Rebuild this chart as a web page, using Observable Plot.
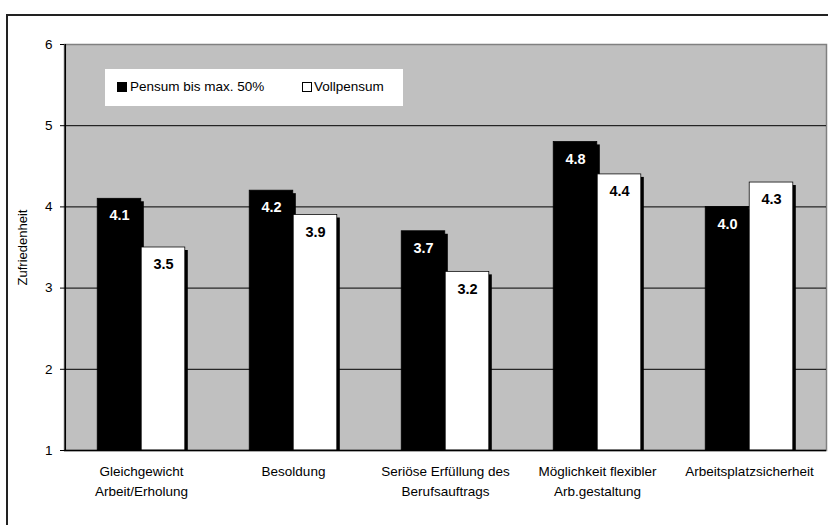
<!DOCTYPE html>
<html>
<head>
<meta charset="utf-8">
<script src="https://cdn.jsdelivr.net/npm/d3@7"></script>
<script src="https://cdn.jsdelivr.net/npm/@observablehq/plot@0.6"></script>
<style>
  html, body { margin: 0; padding: 0; background: #fff; }
  #wrap { position: relative; width: 828px; height: 525px; overflow: hidden; font-family: "Liberation Sans", Arial, sans-serif; }
  #outer { position: absolute; left: 6px; top: 14px; width: 900px; height: 600px; border: 2px solid #222; box-sizing: border-box; }
  #chart { position: absolute; left: 0; top: 0; }
  #legend { position: absolute; left: 105px; top: 69px; width: 298px; height: 37px; background: #fff; font-size: 13.5px; color: #000; }
  .sw { position: absolute; top: 13px; width: 10px; height: 10px; box-sizing: border-box; border: 1px solid #000; }
  .lt { position: absolute; top: 10px; white-space: nowrap; }
</style>
</head>
<body>
<div id="wrap">
  <div id="outer"></div>
  <div id="chart"></div>
  <div id="legend">
    <div class="sw" style="left:12px;background:#000"></div>
    <div class="lt" style="left:25px">Pensum bis max. 50%</div>
    <div class="sw" style="left:197px;background:#fff"></div>
    <div class="lt" style="left:209px">Vollpensum</div>
  </div>
</div>
<script>
const categories = [
  "Gleichgewicht\nArbeit/Erholung",
  "Besoldung",
  "Seriöse Erfüllung des\nBerufsauftrags",
  "Möglichkeit flexibler\nArb.gestaltung",
  "Arbeitsplatzsicherheit"
];
const seriesNames = ["Pensum bis max. 50%", "Vollpensum"];
const partTime = [4.1, 4.2, 3.7, 4.8, 4.0];
const fullTime = [3.5, 3.9, 3.2, 4.4, 4.3];
const yTicks = [1, 2, 3, 4, 5, 6];
const gridValues = [2, 3, 4, 5];
const yTitle = "Zufriedenheit";

const data = [];
categories.forEach((c, i) => {
  data.push({cat: c, series: seriesNames[0], value: partTime[i]});
  data.push({cat: c, series: seriesNames[1], value: fullTime[i]});
});
const black = data.filter(d => d.series === seriesNames[0]);
const white = data.filter(d => d.series === seriesNames[1]);

const W = 828, H = 525;
const mL = 64, mR = 2, mT = 44, mB = 75;
const band = (W - mL - mR) / categories.length;
const barW = 44;
const outerPad = (band - 2 * barW) / 2;
const font = "Liberation Sans, Arial, sans-serif";

const chart = Plot.plot({
  width: W,
  height: H,
  marginLeft: mL,
  marginRight: mR,
  marginTop: mT,
  marginBottom: mB,
  style: {background: "transparent", fontFamily: font, fontSize: "13px", color: "#000"},
  x: {domain: categories, padding: 0},
  y: {domain: [1, 6]},
  marks: [
    Plot.frame({fill: "#c0c0c0", stroke: "#808080", strokeWidth: 1.5}),
    Plot.ruleY(gridValues, {stroke: "#000", strokeWidth: 1}),
    // shadows
    Plot.barY(black, {x: "cat", y1: 1, y2: "value", fill: "#000", dx: 3, dy: 3, insetBottom: 3,
      insetLeft: outerPad, insetRight: band - outerPad - barW}),
    Plot.barY(white, {x: "cat", y1: 1, y2: "value", fill: "#000", dx: 3, dy: 3, insetBottom: 3,
      insetLeft: outerPad + barW, insetRight: outerPad}),
    // bars
    Plot.barY(black, {x: "cat", y1: 1, y2: "value", fill: "#000", stroke: "#000", strokeWidth: 0.75,
      insetLeft: outerPad, insetRight: band - outerPad - barW}),
    Plot.barY(white, {x: "cat", y1: 1, y2: "value", fill: "#fff", stroke: "#000", strokeWidth: 0.75,
      insetLeft: outerPad + barW, insetRight: outerPad}),
    // value labels
    Plot.text(black, {x: "cat", y: "value", text: d => d.value.toFixed(1), dx: -(barW / 2), dy: 17,
      fill: "#fff", fontWeight: "bold", fontSize: 14.5}),
    Plot.text(white, {x: "cat", y: "value", text: d => d.value.toFixed(1), dx: barW / 2, dy: 17,
      fill: "#000", fontWeight: "bold", fontSize: 14.5}),
    Plot.axisY({ticks: yTicks, tickFormat: d => String(d), tickSize: 4, tickPadding: 8,
      label: null, fontSize: 13.5}),
    Plot.text([yTitle], {text: d => d, frameAnchor: "left", textAnchor: "middle", rotate: -90, dx: -42,
      fontSize: 13, fill: "#000"}),
    Plot.axisX({tickSize: 0, tickPadding: 12, label: null, lineHeight: 1.45, fontSize: 13.5}),
    Plot.ruleX([0], {x: () => categories[0], dx: -band / 2, y1: 1, y2: 6, stroke: "#000", strokeWidth: 1.5}),
    Plot.ruleY([1], {stroke: "#000", strokeWidth: 1.5})
  ]
});
document.getElementById("chart").appendChild(chart);
</script>
</body>
</html>
